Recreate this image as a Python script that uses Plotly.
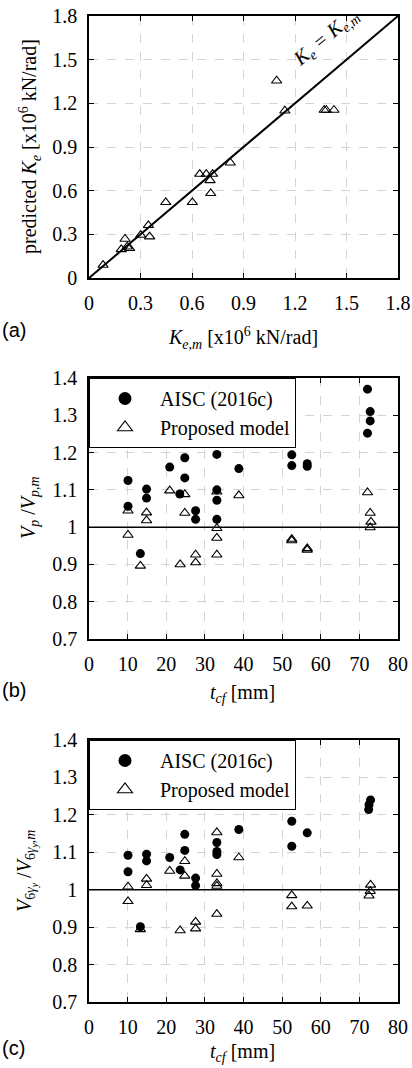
import plotly.graph_objects as go

# ---------------- Panel (a): stiffness ----------------
ke_measured = [0.082, 0.188, 0.210, 0.223, 0.237, 0.301, 0.346, 0.353, 0.447, 0.602,
               0.645, 0.683, 0.720, 0.705, 0.709, 0.823, 1.093, 1.141, 1.370, 1.382, 1.427]
ke_predicted = [0.089, 0.197, 0.268, 0.215, 0.204, 0.295, 0.362, 0.284, 0.520, 0.520,
                0.714, 0.714, 0.714, 0.671, 0.582, 0.792, 1.355, 1.149, 1.154, 1.154, 1.154]
ke_range = [0, 1.8]

# ---------------- Panel (b): Vp / Vp,m ----------------
tcf_b_aisc = [10.1, 10.1, 14.9, 14.9, 13.3, 20.9, 23.5, 24.8, 24.8, 27.6, 27.6, 33.1, 33.1,
              33.1, 33.1, 38.8, 52.5, 52.5, 56.5, 56.5, 72.1, 72.8, 72.8, 72.1]
vp_aisc = [1.125, 1.056, 1.102, 1.078, 0.929, 1.161, 1.089, 1.186, 1.132, 1.044, 1.021, 1.195,
           1.100, 1.072, 1.021, 1.157, 1.194, 1.165, 1.163, 1.170, 1.370, 1.310, 1.285, 1.252]
tcf_b_prop = [10.1, 10.1, 14.9, 14.9, 13.3, 20.9, 23.6, 24.8, 24.8, 27.6, 27.6, 33.1, 33.1,
              33.1, 33.1, 38.8, 52.5, 52.5, 56.5, 56.5, 72.1, 72.8, 73.0, 72.8]
vp_prop = [1.044, 0.979, 1.039, 1.018, 0.896, 1.098, 0.900, 1.088, 1.038, 0.926, 0.905, 1.095,
           0.997, 0.971, 0.926, 1.085, 0.964, 0.968, 0.939, 0.943, 1.093, 1.038, 1.014, 0.999]

# ---------------- Panel (c): V6gy / V6gy,m ----------------
tcf_c_aisc = [10.1, 10.1, 14.9, 14.9, 13.3, 20.9, 23.6, 24.8, 24.8, 27.6, 27.6, 33.1, 33.1,
              33.1, 33.1, 38.8, 52.5, 52.5, 56.5, 72.9, 72.5, 72.4]
v6_aisc = [1.092, 1.048, 1.095, 1.077, 0.901, 1.086, 1.053, 1.148, 1.105, 1.031, 1.011, 1.237,
           1.126, 1.102, 1.094, 1.161, 1.183, 1.116, 1.152, 1.240, 1.227, 1.214]
tcf_c_prop = [10.1, 10.1, 14.9, 14.9, 13.3, 20.9, 23.6, 24.8, 24.8, 27.6, 27.6, 33.1, 33.1,
              33.1, 33.1, 33.1, 38.8, 52.5, 52.5, 56.5, 72.9, 72.8, 72.5]
v6_prop = [1.008, 0.969, 1.029, 1.012, 0.894, 1.050, 0.891, 1.076, 1.037, 0.914, 0.896, 1.153,
           1.042, 1.017, 1.010, 0.935, 1.086, 0.985, 0.955, 0.957, 1.013, 0.996, 0.984]

ratio_range = [0.7, 1.4]
tcf_range = [0, 80]
legend_names = ["AISC (2016c)", "Proposed model"]

W, H = 412, 1068
SERIF = "Liberation Serif"
SANS = "Liberation Sans"

def py(p):  # pixel (from top) -> paper y
    return 1 - p / H

def px(p):
    return p / W

x_dom = [px(89), px(398)]
dom_a = [py(278), py(16)]
dom_b = [py(639), py(378)]
dom_c = [py(1002), py(740)]

tri = dict(symbol="triangle-up-open", size=9, color="black", line=dict(width=1.1, color="black"))
dot = dict(symbol="circle", size=9, color="black")

fig = go.Figure()

# Panel a
fig.add_trace(go.Scatter(x=ke_range, y=ke_range, mode="lines", line=dict(color="black", width=2),
                         xaxis="x", yaxis="y", showlegend=False))
fig.add_trace(go.Scatter(x=ke_measured, y=ke_predicted, mode="markers", marker=tri,
                         xaxis="x", yaxis="y", showlegend=False))

# Panel b
fig.add_trace(go.Scatter(x=tcf_b_aisc, y=vp_aisc, mode="markers", marker=dot,
                         xaxis="x2", yaxis="y2", showlegend=False))
fig.add_trace(go.Scatter(x=tcf_b_prop, y=vp_prop, mode="markers", marker=tri,
                         xaxis="x2", yaxis="y2", showlegend=False))
# Panel c
fig.add_trace(go.Scatter(x=tcf_c_aisc, y=v6_aisc, mode="markers", marker=dot,
                         xaxis="x3", yaxis="y3", showlegend=False))
fig.add_trace(go.Scatter(x=tcf_c_prop, y=v6_prop, mode="markers", marker=tri,
                         xaxis="x3", yaxis="y3", showlegend=False))

# legend-only entries (larger symbols, as in the reference legend)
for lg, xa, ya in [("legend", "x2", "y2"), ("legend2", "x3", "y3")]:
    fig.add_trace(go.Scatter(x=[None], y=[None], mode="markers", name=legend_names[0],
                             marker=dict(symbol="circle", size=13, color="black"),
                             xaxis=xa, yaxis=ya, legend=lg))
    fig.add_trace(go.Scatter(x=[None], y=[None], mode="markers", name=legend_names[1],
                             marker=dict(symbol="triangle-up-open", size=13, color="black",
                                         line=dict(width=1.1)),
                             xaxis=xa, yaxis=ya, legend=lg))

for yv, xr, yr in [(1, "x2 domain", "y2"), (1, "x3 domain", "y3")]:
    fig.add_shape(type="line", xref=xr, yref=yr, x0=0, x1=1, y0=yv, y1=yv,
                  line=dict(color="black", width=1.5), layer="above")

axis_common = dict(showline=True, linecolor="black", linewidth=1.5, mirror="ticks",
                   ticks="inside", ticklen=5, tickwidth=1, tickcolor="black",
                   showgrid=True, gridcolor="#d4d4d4", griddash="dash", gridwidth=1,
                   zeroline=False, tickfont=dict(family=SERIF, size=20, color="black"),
                   ticklabelstandoff=6)

legend_common = dict(font=dict(family=SERIF, size=20, color="black"), bgcolor="white",
                     bordercolor="black", borderwidth=1, itemwidth=60, tracegroupgap=0,
                     xanchor="left", yanchor="top", x=px(89))

fig.update_layout(
    width=W, height=H, margin=dict(l=0, r=0, t=0, b=0, autoexpand=False),
    font=dict(family=SERIF, size=20, color="black"),
    paper_bgcolor="white", plot_bgcolor="white",
    xaxis=dict(domain=x_dom, range=ke_range, dtick=0.3, tick0=0, anchor="y", **axis_common),
    yaxis=dict(domain=dom_a, range=ke_range, dtick=0.3, tick0=0, anchor="x", **axis_common),
    xaxis2=dict(domain=x_dom, range=tcf_range, dtick=10, tick0=0, anchor="y2", **axis_common),
    yaxis2=dict(domain=dom_b, range=ratio_range, dtick=0.1, tick0=0.7, anchor="x2", **axis_common),
    xaxis3=dict(domain=x_dom, range=tcf_range, dtick=10, tick0=0, anchor="y3", **axis_common),
    yaxis3=dict(domain=dom_c, range=ratio_range, dtick=0.1, tick0=0.7, anchor="x3", **axis_common),
    legend=dict(y=dom_b[1], **legend_common),
    legend2=dict(y=dom_c[1], **legend_common),
)

ann_font = dict(family=SERIF, size=20, color="black")
C = dict(xanchor="center", yanchor="middle", showarrow=False)
annotations = [
    # diagonal label
    dict(x=1.38, y=1.655, xref="x", yref="y", textangle=-40,
         text="<i>K</i><sub><i>e</i></sub><i> = K</i><sub><i>e,m</i></sub>", font=ann_font, **C),
    # panel a titles
    dict(x=px(243), y=py(338), xref="paper", yref="paper",
         text="<i>K</i><sub><i>e,m</i></sub> [x10<sup>6</sup> kN/rad]", font=ann_font, **C),
    dict(x=px(30), y=py(147), xref="paper", yref="paper", textangle=-90,
         text="predicted <i>K</i><sub><i>e</i></sub> [x10<sup>6</sup> kN/rad]", font=ann_font, **C),
    # panel b titles
    dict(x=px(243), y=py(693), xref="paper", yref="paper",
         text="<i>t</i><sub><i>cf</i></sub> [mm]", font=ann_font, **C),
    dict(x=px(29), y=py(508), xref="paper", yref="paper", textangle=-90,
         text="<i>V</i><sub><i>p</i></sub> /<i>V</i><sub><i>p,m</i></sub>", font=ann_font, **C),
    # panel c titles
    dict(x=px(243), y=py(1052), xref="paper", yref="paper",
         text="<i>t</i><sub><i>cf</i></sub> [mm]", font=ann_font, **C),
    dict(x=px(26), y=py(871), xref="paper", yref="paper", textangle=-90,
         text="<i>V</i><sub>6<i>γ</i><sub><i>y</i></sub></sub> /<i>V</i><sub>6<i>γ</i><sub><i>y</i></sub><i>,m</i></sub>",
         font=ann_font, **C),
    # panel labels
    dict(x=0, y=py(330), xref="paper", yref="paper", xanchor="left", yanchor="middle",
         showarrow=False, text="(a)", font=dict(family=SANS, size=20, color="black")),
    dict(x=0, y=py(690), xref="paper", yref="paper", xanchor="left", yanchor="middle",
         showarrow=False, text="(b)", font=dict(family=SANS, size=20, color="black")),
    dict(x=0, y=py(1048), xref="paper", yref="paper", xanchor="left", yanchor="middle",
         showarrow=False, text="(c)", font=dict(family=SANS, size=20, color="black")),
]
fig.update_layout(annotations=annotations)

fig.write_html("out.html")
